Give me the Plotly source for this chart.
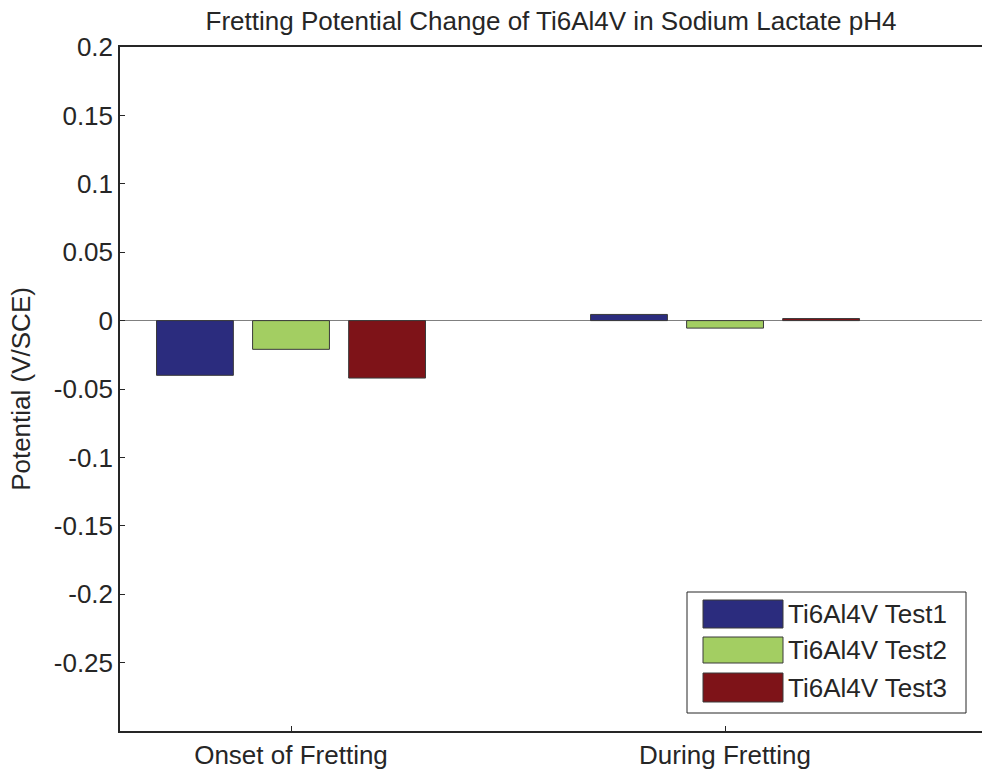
import plotly.graph_objects as go

categories = ["Onset of Fretting", "During Fretting"]
series_names = ["Ti6Al4V Test1", "Ti6Al4V Test2", "Ti6Al4V Test3"]
test1 = [-0.040, 0.0045]
test2 = [-0.021, -0.0055]
test3 = [-0.042, 0.0015]
colors = ["#2B2C7E", "#A3CE62", "#7E1318"]
ytick_vals = [0.2, 0.15, 0.1, 0.05, 0, -0.05, -0.1, -0.15, -0.2, -0.25]
ytick_text = ["0.2", "0.15", "0.1", "0.05", "0", "-0.05", "-0.1", "-0.15", "-0.2", "-0.25"]
y_range = [-0.3, 0.2]

W, H = 982, 772
L, R, T, B = 120, 0, 47, 41
FONT = "Liberation Sans, Arial, sans-serif"
FS = 26
TXT = "#262626"

fig = go.Figure()
for name, vals, col in zip(series_names, [test1, test2, test3], colors):
    fig.add_trace(go.Bar(
        x=categories, y=vals, name=name,
        marker=dict(color=col, line=dict(color="#3a3a3a", width=1)),
        showlegend=False,
    ))

# custom legend (MATLAB style with large swatches)
pw, ph = W - L - R, H - T - B
def px(x):
    return (x - L) / pw
def py(y):
    return 1 - (y - T) / ph

shapes = [dict(type="rect", xref="paper", yref="paper",
               x0=px(687), x1=px(966), y0=py(713), y1=py(592),
               line=dict(color="#262626", width=1), fillcolor="white", layer="above")]
annotations = []
rows = [(600, 628), (637, 663), (673, 702)]
for (y0, y1), name, col in zip(rows, series_names, colors):
    shapes.append(dict(type="rect", xref="paper", yref="paper",
                       x0=px(703), x1=px(783), y0=py(y1), y1=py(y0),
                       line=dict(color="#3a3a3a", width=1), fillcolor=col, layer="above"))
    annotations.append(dict(xref="paper", yref="paper", x=px(786), y=py((y0 + y1) / 2),
                            text=name, showarrow=False, xanchor="left", yanchor="middle",
                            font=dict(family=FONT, size=FS, color=TXT)))

fig.update_layout(
    width=W, height=H,
    margin=dict(l=L, r=R, t=T, b=B, pad=0),
    paper_bgcolor="white", plot_bgcolor="white",
    barmode="group", bargap=0.336, bargroupgap=0.2,
    title=dict(text="Fretting Potential Change of Ti6Al4V in Sodium Lactate pH4",
               x=(L + W - R) / 2 / W, xanchor="center", y=1 - 21 / H, yanchor="middle",
               font=dict(family=FONT, size=FS, color=TXT)),
    font=dict(family=FONT, size=FS, color=TXT),
    shapes=shapes, annotations=annotations,
    xaxis=dict(
        type="category", range=[-0.394, 1.592],
        showline=True, linecolor="#262626", linewidth=1.5, mirror=True,
        ticks="inside", ticklen=5, tickcolor="#262626",
        showgrid=False, zeroline=False,
        tickfont=dict(family=FONT, size=FS, color=TXT),
    ),
    yaxis=dict(
        range=y_range,
        tickvals=ytick_vals, ticktext=ytick_text,
        showline=True, linecolor="#262626", linewidth=1.5, mirror=False,
        ticks="inside", ticklen=5, tickcolor="#262626",
        showgrid=False, zeroline=True, zerolinecolor="#808080", zerolinewidth=1,
        tickfont=dict(family=FONT, size=FS, color=TXT),
        title=dict(text="Potential (V/SCE)", font=dict(family=FONT, size=FS, color=TXT), standoff=16),
    ),
    yaxis2=dict(overlaying="y", range=y_range, side="right", showline=False,
                ticks="inside", ticklen=5, tickcolor="#262626", tickvals=ytick_vals,
                showticklabels=False, showgrid=False, zeroline=False),
)

fig.write_html("out.html")
